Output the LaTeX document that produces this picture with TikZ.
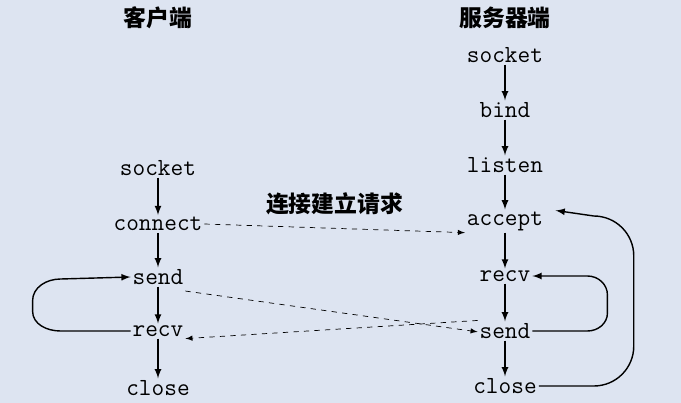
\documentclass[tikz,border=0pt]{standalone}
\usepackage{fontspec}
\newfontfamily\cjk{Noto Sans CJK SC}
\usetikzlibrary{arrows,positioning}
\definecolor{bgblue}{HTML}{DDE4F1}
\tikzset{
  call/.style={font=\fontsize{14}{16}\selectfont\ttfamily, inner sep=1pt},
  head/.style={font=\cjk\bfseries\fontsize{13}{15}\selectfont},
  flow/.style={->, >=latex, thick},
  msg/.style={->, >=latex, dashed}
}
\begin{document}
\begin{tikzpicture}[x=0.02cm, y=-0.02cm]

\fill[bgblue] (0,0) rectangle (681,403);

\node[head] (client) at (158,18) {客户端};
\node[head] (server) at (505,18) {服务器端};

\node[call] (ssock) at (505,55) {socket};
\node[call] (sbind) at (505,110) {bind};
\node[call] (slist) at (505,165) {listen};
\node[call] (sacc) at (505,221) {accept};
\node[call] (srecv) at (505,276) {recv};
\node[call] (ssend) at (505,331) {send};
\node[call] (sclose) at (505,386) {close};

\node[call] (csock) at (158,168) {socket};
\node[call] (cconn) at (158,224) {connect};
\node[call] (csend) at (158,277) {send};
\node[call] (crecv) at (158,331) {recv};
\node[call] (cclose) at (158,388) {close};

\draw[flow] (ssock) -- (sbind);
\draw[flow] (sbind) -- (slist);
\draw[flow] (slist) -- (sacc);
\draw[flow] (sacc) -- (srecv);
\draw[flow] (srecv) -- (ssend);
\draw[flow] (ssend) -- (sclose);

\draw[flow] (csock) -- (cconn);
\draw[flow] (cconn) -- (csend);
\draw[flow] (csend) -- (crecv);
\draw[flow] (crecv) -- (cclose);

\draw[msg] (cconn.east) -- (sacc.south west) node[midway, above=4pt, head] {连接建立请求};
\draw[msg] ([yshift=-8pt]csend.east) -- ([yshift=-6pt]ssend.north west);
\draw[msg] ([yshift=6pt]ssend.west) -- (crecv.south east);

% loops
\draw[flow] (crecv.west) -- ++(-70,0) to[out=180, in=-90] ++(-28,-20)
  -- ++(0,-10) to[out=90, in=180] ++(28,-22) -- (csend.west);
\draw[flow] (ssend.east) -- ++(55,0) to[out=0, in=-90] ++(20,-18)
  -- ++(0,-18) to[out=90, in=0] ++(-20,-19) -- (srecv.east);
\draw[flow] (sclose.east) -- ++(55,0) to[out=0, in=-90] ++(40,-40)
  -- ++(0,-90) to[out=90, in=0] ++(-40,-40) -- ([xshift=6pt,yshift=6pt]sacc.east);

\end{tikzpicture}
\end{document}
